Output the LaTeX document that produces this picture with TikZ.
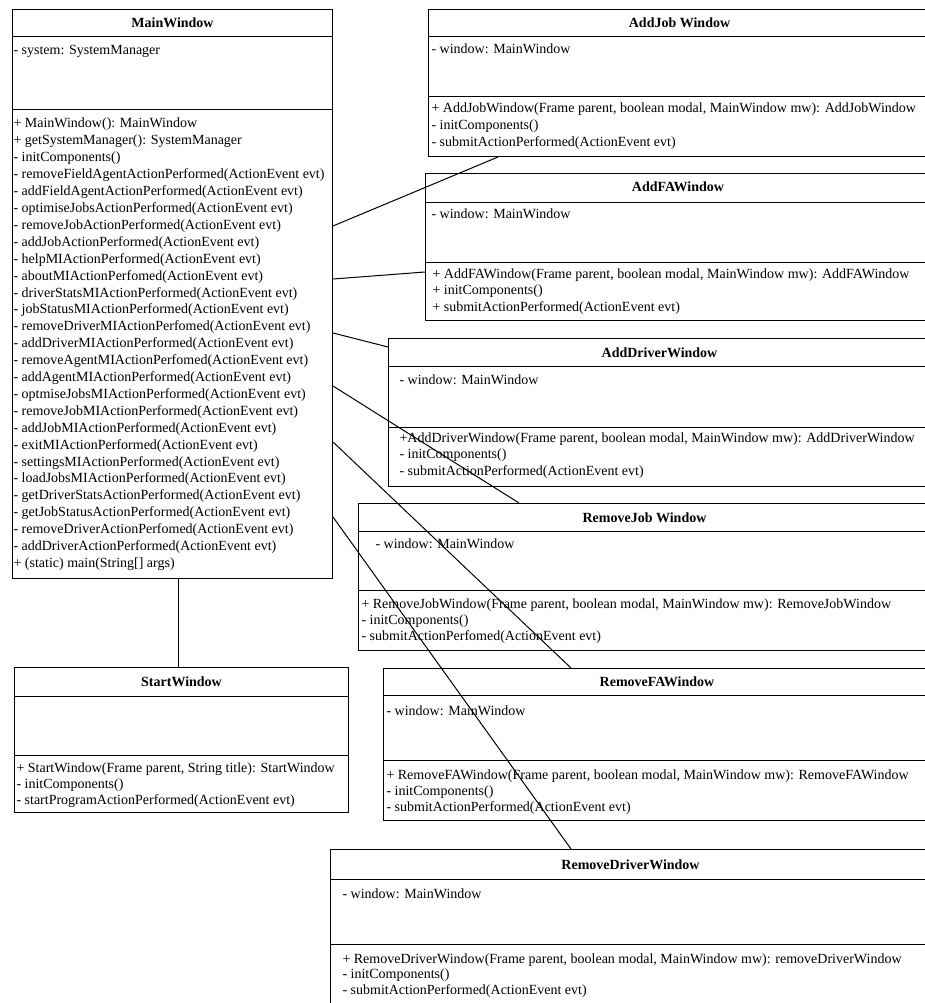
\documentclass[tikz,border=0pt]{standalone}
\usepackage{fontspec}
\setmainfont{Liberation Serif}
\usetikzlibrary{calc}

\begin{document}
\begin{tikzpicture}[x=1pt,y=-1pt,line width=1pt,
  font=\fontsize{14}{17}\selectfont,
  classbox/.style={draw=black, fill=white, anchor=north west, inner sep=0pt},
  classname/.style={anchor=base, font=\fontsize{14}{17}\selectfont\bfseries},
  member/.style={anchor=base west, inner sep=0pt}]
\useasboundingbox[fill=white] (0,0) rectangle (925,1003);

% MainWindow
\node[classbox, minimum width=320pt, minimum height=569pt] (main) at (12,9) {};
\draw ($(main.north west)+(0,28)$) -- ($(main.north east)+(0,28)$);
\draw ($(main.north west)+(0,101)$) -- ($(main.north east)+(0,101)$);
\node[classname] (maint) at ($(main.north)+(0,19)$) {MainWindow};
\node[member] (maina) at (13,55) {- system: SystemManager};
\foreach \m [count=\i from 0] in {+ MainWindow(): MainWindow, + getSystemManager(): SystemManager,
  - initComponents(), - removeFieldAgentActionPerformed(ActionEvent evt),
  - addFieldAgentActionPerformed(ActionEvent evt), - optimiseJobsActionPerformed(ActionEvent evt),
  - removeJobActionPerformed(ActionEvent evt), - addJobActionPerformed(ActionEvent evt),
  - helpMIActionPerformed(ActionEvent evt), - aboutMIActionPerfomed(ActionEvent evt),
  - driverStatsMIActionPerformed(ActionEvent evt), - jobStatusMIActionPerformed(ActionEvent evt),
  - removeDriverMIActionPerfomed(ActionEvent evt), - addDriverMIActionPerformed(ActionEvent evt),
  - removeAgentMIActionPerfomed(ActionEvent evt), - addAgentMIActionPerformed(ActionEvent evt),
  - optmiseJobsMIActionPerformed(ActionEvent evt), - removeJobMIActionPerformed(ActionEvent evt),
  - addJobMIActionPerformed(ActionEvent evt), - exitMIActionPerformed(ActionEvent evt),
  - settingsMIActionPerformed(ActionEvent evt), - loadJobsMIActionPerformed(ActionEvent evt),
  - getDriverStatsActionPerformed(ActionEvent evt), - getJobStatusActionPerformed(ActionEvent evt),
  - removeDriverActionPerfomed(ActionEvent evt), - addDriverActionPerformed(ActionEvent evt),
  + (static) main(String[] args)}{
\node[member] (mainm\i) at (13,{128+16.9*\i}) {\m};}

% AddJobWindow
\node[classbox, minimum width=502pt, minimum height=147pt] (addjob) at (428,9) {};
\draw ($(addjob.north west)+(0,28)$) -- ($(addjob.north east)+(0,28)$);
\draw ($(addjob.north west)+(0,88)$) -- ($(addjob.north east)+(0,88)$);
\node[classname] (addjobt) at ($(addjob.north)+(0,19)$) {AddJob Window};
\node[member] (addjoba) at (431,54) {- window: MainWindow};
\foreach \m [count=\i from 0] in {{+ AddJobWindow(Frame parent, boolean modal, MainWindow mw): AddJobWindow},
  - initComponents(), - submitActionPerformed(ActionEvent evt)}{
\node[member] (addjobm\i) at (431,{113+17*\i}) {\m};}

% AddFAWindow
\node[classbox, minimum width=505pt, minimum height=147pt] (addfa) at (425,173) {};
\draw ($(addfa.north west)+(0,29)$) -- ($(addfa.north east)+(0,29)$);
\draw ($(addfa.north west)+(0,89)$) -- ($(addfa.north east)+(0,89)$);
\node[classname] (addfat) at ($(addfa.north)+(0,19)$) {AddFAWindow};
\node[member] (addfaa) at (431,218) {- window: MainWindow};
\foreach \m [count=\i from 0] in {{+ AddFAWindow(Frame parent, boolean modal, MainWindow mw): AddFAWindow},
  + initComponents(), + submitActionPerformed(ActionEvent evt)}{
\node[member] (addfam\i) at (432,{278+16.5*\i}) {\m};}

% AddDriverWindow
\node[classbox, minimum width=542pt, minimum height=148pt] (adddriver) at (388,338) {};
\draw ($(adddriver.north west)+(0,28)$) -- ($(adddriver.north east)+(0,28)$);
\draw ($(adddriver.north west)+(0,89)$) -- ($(adddriver.north east)+(0,89)$);
\node[classname] (adddrivert) at ($(adddriver.north)+(0,19)$) {AddDriverWindow};
\node[member] (adddrivera) at (399,384) {- window: MainWindow};
\foreach \m [count=\i from 0] in {{+AddDriverWindow(Frame parent, boolean modal, MainWindow mw): AddDriverWindow},
  - initComponents(), - submitActionPerformed(ActionEvent evt)}{
\node[member] (adddriverm\i) at (399,{442+16.5*\i}) {\m};}

% RemoveJobWindow
\node[classbox, minimum width=572pt, minimum height=147pt] (removejob) at (358,503) {};
\draw ($(removejob.north west)+(0,28)$) -- ($(removejob.north east)+(0,28)$);
\draw ($(removejob.north west)+(0,87)$) -- ($(removejob.north east)+(0,87)$);
\node[classname] (removejobt) at ($(removejob.north)+(0,19)$) {RemoveJob Window};
\node[member] (removejoba) at (375,548) {- window: MainWindow};
\foreach \m [count=\i from 0] in {{+ RemoveJobWindow(Frame parent, boolean modal, MainWindow mw): RemoveJobWindow},
  - initComponents(), - submitActionPerfomed(ActionEvent evt)}{
\node[member] (removejobm\i) at (361,{608+16*\i}) {\m};}

% RemoveFAWindow
\node[classbox, minimum width=547pt, minimum height=152pt] (removefa) at (383,668) {};
\draw ($(removefa.north west)+(0,27)$) -- ($(removefa.north east)+(0,27)$);
\draw ($(removefa.north west)+(0,92)$) -- ($(removefa.north east)+(0,92)$);
\node[classname] (removefat) at ($(removefa.north)+(0,18)$) {RemoveFAWindow};
\node[member] (removefaa) at (386,715) {- window: MainWindow};
\foreach \m [count=\i from 0] in {{+ RemoveFAWindow(Frame parent, boolean modal, MainWindow mw): RemoveFAWindow},
  - initComponents(), - submitActionPerformed(ActionEvent evt)}{
\node[member] (removefam\i) at (386,{779+16*\i}) {\m};}

% RemoveDriverWindow
\node[classbox, minimum width=600pt, minimum height=161pt] (removedriver) at (330,849) {};
\draw ($(removedriver.north west)+(0,30)$) -- ($(removedriver.north east)+(0,30)$);
\draw ($(removedriver.north west)+(0,95)$) -- ($(removedriver.north east)+(0,95)$);
\node[classname] (removedrivert) at ($(removedriver.north)+(0,20)$) {RemoveDriverWindow};
\node[member] (removedrivera) at (342,898) {- window: MainWindow};
\foreach \m [count=\i from 0] in {{+ RemoveDriverWindow(Frame parent, boolean modal, MainWindow mw): removeDriverWindow},
  - initComponents(), - submitActionPerformed(ActionEvent evt)}{
\node[member] (removedriverm\i) at (342,{963+15.5*\i}) {\m};}

% StartWindow
\node[classbox, minimum width=334pt, minimum height=145pt] (start) at (14,667) {};
\draw ($(start.north west)+(0,29)$) -- ($(start.north east)+(0,29)$);
\draw ($(start.north west)+(0,88)$) -- ($(start.north east)+(0,88)$);
\node[classname] (startt) at ($(start.north)+(0,19)$) {StartWindow};
\foreach \m [count=\i from 0] in {{+ StartWindow(Frame parent, String title): StartWindow},
  - initComponents(), - startProgramActionPerformed(ActionEvent evt)}{
\node[member] (startm\i) at (16,{772+16*\i}) {\m};}

% associations
\draw ($(main.north east)+(0,217)$) -- ($(addjob.south west)+(70,0)$);
\draw ($(main.north east)+(0,270)$) -- ($(addfa.north west)+(0,99)$);
\draw ($(main.north east)+(0,324)$) -- ($(adddriver.north west)+(0,9)$);
\draw ($(main.north east)+(0,377)$) -- ($(removejob.north west)+(161,0)$);
\draw ($(main.north east)+(0,433)$) -- ($(removefa.north west)+(188,0)$);
\draw ($(main.north east)+(0,508)$) -- ($(removedriver.north west)+(241,0)$);
\draw ($(main.south)+(6,0)$) -- ($(start.north)+(-3,0)$);
\end{tikzpicture}
\end{document}
